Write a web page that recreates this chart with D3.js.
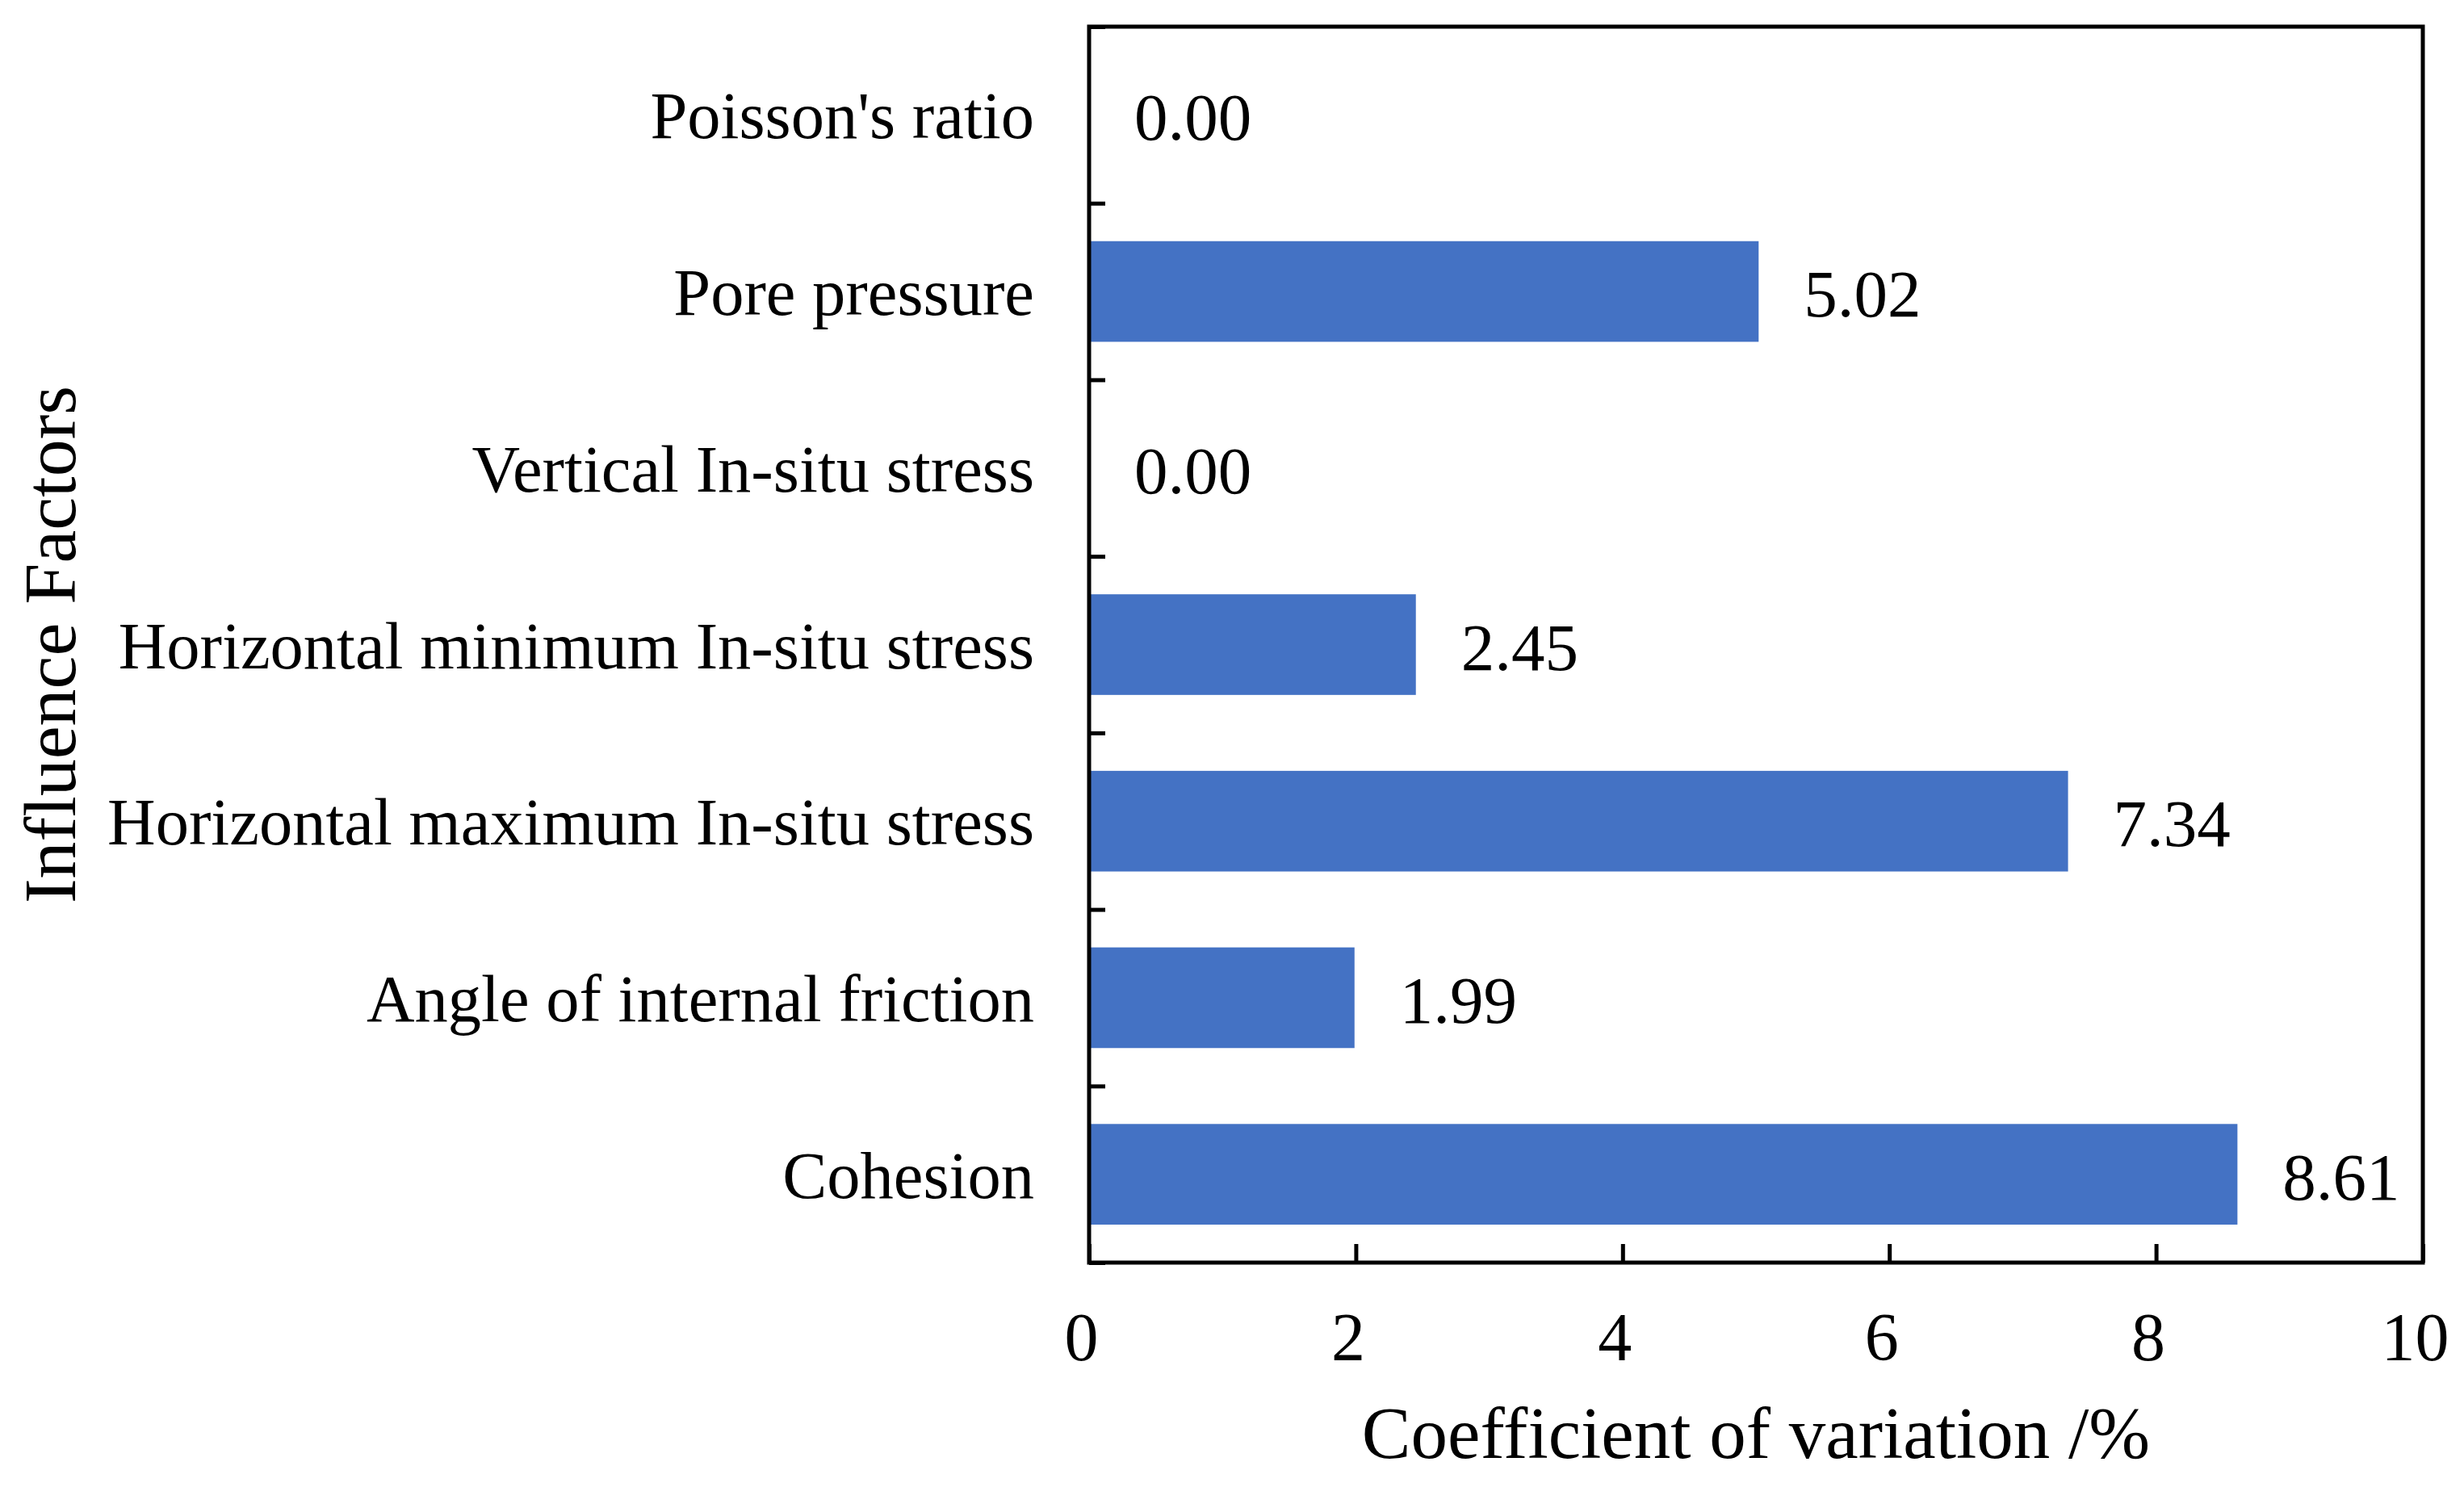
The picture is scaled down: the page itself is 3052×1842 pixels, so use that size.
<!DOCTYPE html>
<html>
<head>
<meta charset="utf-8">
<script src="https://cdn.jsdelivr.net/npm/d3@7"></script>
<style>
  body { margin: 0; background: #fff; }
  text { font-family: "Liberation Serif", "Times New Roman", serif; fill: #000; }
</style>
</head>
<body>
<script>
// chart values
let factors = [
  "Poisson's ratio",
  "Pore pressure",
  "Vertical In-situ stress",
  "Horizontal minimum In-situ stress",
  "Horizontal maximum In-situ stress",
  "Angle of internal friction",
  "Cohesion"
];
let cov = [0.0, 5.02, 0.0, 2.45, 7.34, 1.99, 8.61];
let xTicks = [0, 2, 4, 6, 8, 10];
let xTitle = "Coefficient of variation /%";
let yTitle = "Influence Factors";

let data = factors.map((f, i) => ({ name: f, value: cov[i] }));

// layout
let W = 3052, H = 1842;
let plotL = 1349, plotR = 3001, plotT = 33, plotB = 1564;

let svg = d3
  .select("body")
  .append("svg")
  .attr("width", W)
  .attr("height", H);

let x = d3.scaleLinear().domain([0, 10]).range([plotL, plotR]);

let y = d3
  .scaleBand()
  .domain(factors)
  .range([plotT, plotB])
  .paddingInner(0.43)
  .paddingOuter(0.215);

// bars
svg
  .append("g")
  .selectAll("rect")
  .data(data)
  .enter()
  .append("rect")
  .attr("x", x(0))
  .attr("y", d => y(d.name))
  .attr("width", d => x(d.value) - x(0))
  .attr("height", y.bandwidth())
  .attr("fill", "#4472C4");

// value labels
svg
  .append("g")
  .selectAll("text")
  .data(data)
  .enter()
  .append("text")
  .attr("x", d => x(d.value) + 56)
  .attr("y", d => y(d.name) + y.bandwidth() / 2 + 31)
  .attr("font-size", 83)
  .text(d => d.value.toFixed(2));

// category labels
svg
  .append("g")
  .selectAll("text")
  .data(data)
  .enter()
  .append("text")
  .attr("x", 1281)
  .attr("y", d => y(d.name) + y.bandwidth() / 2 + 29)
  .attr("text-anchor", "end")
  .attr("font-size", 82.5)
  .text(d => d.name);

// y ticks at band boundaries (inward)
let yEdge = d3.scaleLinear().domain([0, factors.length]).range([plotT, plotB]);
svg
  .append("g")
  .attr("transform", `translate(${plotL},0)`)
  .call(d3.axisRight(yEdge).ticks(factors.length).tickSize(20).tickFormat(""))
  .call(g => g.select(".domain").remove())
  .call(g => g.selectAll("line").attr("stroke", "#000").attr("stroke-width", 5));

// x axis, ticks inward
svg
  .append("g")
  .attr("transform", `translate(0,${plotB})`)
  .call(d3.axisBottom(x).tickValues(xTicks).tickSizeInner(-23).tickSizeOuter(0))
  .call(g => g.select(".domain").remove())
  .call(g => g.selectAll("line").attr("stroke", "#000").attr("stroke-width", 5))
  .call(g =>
    g
      .selectAll("text")
      .attr("y", 121)
      .attr("dy", 0)
      .attr("x", -10)
      .attr("font-size", 84)
  )
  .attr("font-family", null)
  .attr("font-size", null);

// frame
svg
  .append("rect")
  .attr("x", plotL)
  .attr("y", plotT)
  .attr("width", plotR - plotL)
  .attr("height", plotB - plotT)
  .attr("fill", "none")
  .attr("stroke", "#000")
  .attr("stroke-width", 5);

// axis titles
svg
  .append("text")
  .attr("x", (plotL + plotR) / 2)
  .attr("y", 1806)
  .attr("text-anchor", "middle")
  .attr("font-size", 91)
  .text(xTitle);

svg
  .append("text")
  .attr("transform", `translate(93,${(plotT + plotB) / 2}) rotate(-90)`)
  .attr("text-anchor", "middle")
  .attr("font-size", 92)
  .text(yTitle);
</script>
</body>
</html>
